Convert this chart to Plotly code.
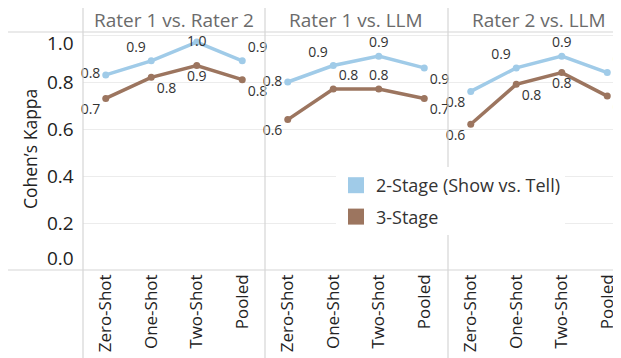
import plotly.graph_objects as go
from plotly.subplots import make_subplots

categories = ["Zero-Shot", "One-Shot", "Two-Shot", "Pooled"]
panels = ["Rater 1 vs. Rater 2", "Rater 1 vs. LLM", "Rater 2 vs. LLM"]
series_names = ["2-Stage (Show vs. Tell)", "3-Stage"]
two_stage = [
    [0.83, 0.89, 0.97, 0.89],
    [0.80, 0.87, 0.91, 0.86],
    [0.76, 0.86, 0.91, 0.84],
]
three_stage = [
    [0.73, 0.82, 0.87, 0.81],
    [0.64, 0.77, 0.77, 0.73],
    [0.62, 0.79, 0.84, 0.74],
]
y_ticks = [0.0, 0.2, 0.4, 0.6, 0.8, 1.0]
y_title = "Cohen’s Kappa"

# label placement (style)
pos_two = [
    ["middle left", "top left", "middle center", "top right"],
    ["middle left", "top left", "top center", "bottom right"],
    ["bottom left", "top left", "top center", "top right"],
]
pos_three = [
    ["bottom left", "bottom right", "bottom center", "bottom right"],
    ["bottom left", "top right", "top center", "bottom right"],
    ["bottom left", "bottom right", "bottom center", "bottom right"],
]

BLUE = "#a0cbe8"
BROWN = "#9c755f"
FONT = "Open Sans"
OFF = 8  # page body margin offset
W, H = 621 - OFF, 358 - OFF
ML, MT = 83 - OFF, 32 - OFF
MB = H - (270 - OFF)
PW = W - ML
PH = H - MT - MB

fig = make_subplots(rows=1, cols=3, shared_yaxes=True, horizontal_spacing=0)

for i in range(3):
    for vals, pos, col, name in [
        (two_stage[i], pos_two[i], BLUE, series_names[0]),
        (three_stage[i], pos_three[i], BROWN, series_names[1]),
    ]:
        fig.add_trace(
            go.Scatter(
                x=categories, y=vals, mode="lines+markers+text",
                line=dict(color=col, width=3.5),
                marker=dict(color=col, size=7),
                texttemplate="%{y:.1f}", textposition=pos,
                textfont=dict(family=FONT, size=14, color="#333333"),
                showlegend=False, hoverinfo="skip", cliponaxis=False,
                name=name,
            ),
            row=1, col=i + 1,
        )

# legend-only entries
for j, (name, col) in enumerate([(series_names[0], BLUE), (series_names[1], BROWN)]):
    fig.add_trace(
        go.Scatter(
            x=[None], y=[None], mode="markers", name=name,
            marker=dict(symbol="square", size=20, color=col, line=dict(width=0)),
            legendgroup=f"g{j}", showlegend=True,
        ),
        row=1, col=1,
    )

# panel edges in reference pixels
px_edges = [83 - OFF, 265 - OFF, 448 - OFF, 621 - OFF]
doms = [[(px_edges[k] - ML) / PW, (px_edges[k + 1] - ML) / PW] for k in range(3)]
band = 45.5
for k in range(3):
    width = px_edges[k + 1] - px_edges[k]
    rng = [-0.5, -0.5 + width / band]
    fig.update_xaxes(
        domain=doms[k], range=rng, row=1, col=k + 1,
        tickangle=-90, showgrid=False, zeroline=False, showline=False,
        ticks="", tickfont=dict(family=FONT, size=17, color="#222222"),
    )

fig.update_yaxes(
    range=[0, PH / 235.0], tickvals=y_ticks, showticklabels=False,
    showgrid=True, gridcolor="#ececec", gridwidth=1, zeroline=False, showline=False,
    ticks="",
)

def py(p):
    return (H - MB - (p - OFF)) / PH

def pxx(p):
    return ((p - OFF) - ML) / PW

shapes = []
sep = "#d6d6d6"
for xe in [83, 265, 448]:
    shapes.append(dict(type="line", xref="paper", yref="paper", x0=pxx(xe), x1=pxx(xe),
                       y0=py(8), y1=py(358), line=dict(color=sep, width=1.2)))
for yy in [32, 270]:
    shapes.append(dict(type="line", xref="paper", yref="paper", x0=pxx(8), x1=1,
                       y0=py(yy), y1=py(yy), line=dict(color=sep, width=1.2)))

annotations = []
for k, t in enumerate(panels):
    cx = [83, 265, 448][k] + 91
    annotations.append(dict(text=t, xref="paper", yref="paper", x=pxx(cx), y=py(20),
                            showarrow=False, xanchor="center", yanchor="middle",
                            font=dict(family=FONT, size=19, color="#6b6b6b")))

# y tick labels (end labels pulled inward, as in the reference)
for v in y_ticks:
    shift = -8 if v == y_ticks[-1] else (12 if v == y_ticks[0] else 0)
    annotations.append(dict(text=f"{v:.1f}", xref="paper", yref="y", x=pxx(76), y=v,
                            yshift=shift, showarrow=False, xanchor="right", yanchor="middle",
                            font=dict(family=FONT, size=19, color="#222222")))
annotations.append(dict(text=y_title, xref="paper", yref="paper", x=pxx(30), y=py(149),
                        textangle=-90, showarrow=False, xanchor="center", yanchor="middle",
                        font=dict(family=FONT, size=17.5, color="#222222")))

fig.update_layout(
    width=W, height=H, margin=dict(l=ML, r=0, t=MT, b=MB, autoexpand=False),
    paper_bgcolor="white", plot_bgcolor="white",
    shapes=shapes, annotations=annotations,
    legend=dict(x=pxx(336), y=py(167), xanchor="left", yanchor="top",
                bgcolor="white", font=dict(family=FONT, size=18, color="#333333"),
                tracegroupgap=5, itemsizing="trace"),
    font=dict(family=FONT),
)

fig.write_html("out.html")
